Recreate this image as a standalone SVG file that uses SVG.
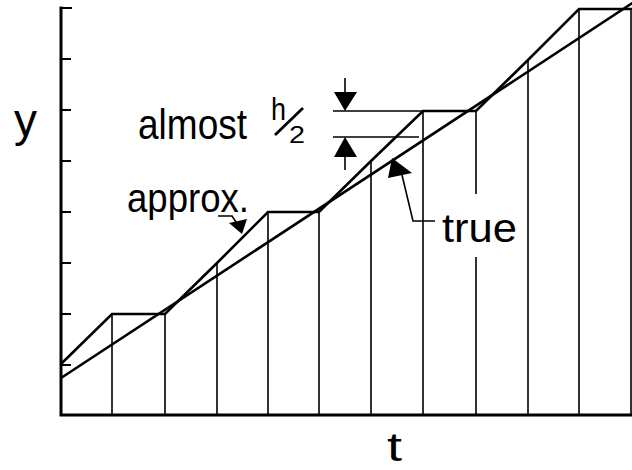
<svg xmlns="http://www.w3.org/2000/svg" width="632" height="470" viewBox="0 0 632 470">
<defs>
<style>
.ax{stroke:#000;stroke-width:3;fill:none;stroke-linecap:square}
.tk{stroke:#000;stroke-width:2;fill:none}
.col{stroke:#000;stroke-width:1.6;fill:none}
.curve{stroke:#000;stroke-width:2.6;fill:none;stroke-linejoin:miter}
.dim{stroke:#000;stroke-width:1.6;fill:none}
.ah{fill:#000;stroke:none}
.lbl{font-family:"Liberation Sans",Arial,sans-serif;fill:#000}
</style>
</defs>
<rect width="632" height="470" fill="#fff"/>
<g id="axes">
<path class="ax" d="M61,8 V415 H632"/>
<path class="tk" d="M61,8 H72 M61,59 H71 M61,110 H71 M61,161 H71 M61,212 H71 M61,263 H71 M61,314 H71 M61,365 H71"/>
</g>
<g id="columns">
<path class="col" d="M112,314 V415 M165,314 V415 M217,263 V415 M268,212 V415 M319,212 V415 M371,161 V415 M423,111 V415 M476,111 V194 M476,257 V415 M528,60 V415 M579,9 V415 M631,9 V415"/>
</g>
<g id="approx-curve">
<path class="curve" d="M61,364 L112,314 H165 L217,263 L268,212 H319 L371,161 L423,111 H476 L528,60 L579,9 H632"/>
</g>
<g id="true-line">
<path class="curve" d="M61,378 L634,2"/>
</g>
<g id="label-y"><text class="lbl" x="14" y="136" font-size="46">y</text></g>
<g id="label-t"><text class="lbl" x="387" y="461" font-size="40" textLength="15" lengthAdjust="spacingAndGlyphs">t</text></g>
<g id="label-almost">
<text class="lbl" x="138" y="139" font-size="42" textLength="109" lengthAdjust="spacingAndGlyphs">almost</text>
<text class="lbl" x="271" y="120" font-size="31" textLength="15" lengthAdjust="spacingAndGlyphs">h</text>
<path d="M275,135 L303,108" stroke="#000" stroke-width="2.8"/>
<text class="lbl" x="289" y="143" font-size="23" textLength="16" lengthAdjust="spacingAndGlyphs">2</text>
</g>
<g id="label-approx">
<text class="lbl" x="127" y="212" font-size="40" textLength="122" lengthAdjust="spacingAndGlyphs">approx.</text>
</g>
<g id="label-true">
<text class="lbl" x="442" y="242" font-size="40" textLength="75" lengthAdjust="spacingAndGlyphs">true</text>
</g>
<g id="connectors">
<path class="dim" d="M333,111 H423 M333,137 H419"/>
<path class="dim" d="M345,78 V95 M345,155 V170"/>
<polygon class="ah" points="334,92 357,92 345,111"/>
<polygon class="ah" points="334,157 357,157 345,137"/>
<path class="dim" d="M218,216 H232 L238,225"/>
<polygon class="ah" points="229,223 247,219 242,234"/>
<path class="dim" d="M435,221 H413 L402,175"/>
<polygon class="ah" points="388,178 412,173 392,158"/>
</g>
</svg>
